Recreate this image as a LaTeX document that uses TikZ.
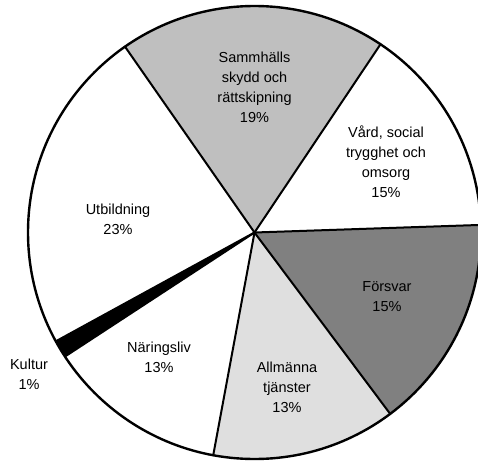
\documentclass[tikz,border=0pt]{standalone}
\usepackage{fontspec}
\setmainfont{Liberation Sans}
\begin{document}
\begin{tikzpicture}[x=1pt,y=1pt,
  lbl/.style={align=center,font=\fontsize{14.5}{20}\selectfont,inner sep=0pt},
  edge/.style={line width=2pt,line cap=round},
  rim/.style={line width=2.4pt}]
\useasboundingbox (0,0) rectangle (478,461);
\def\R{226.5}
\coordinate (c) at (254.5,228.5);
% sector fills
\fill[white] (c) -- ++(1.92:\R) arc[start angle=1.92,end angle=56.2,radius=\R] -- cycle;
\fill[gray!50] (c) -- ++(56.2:\R) arc[start angle=56.2,end angle=124.87,radius=\R] -- cycle;
\fill[white] (c) -- ++(124.87:\R) arc[start angle=124.87,end angle=208.7,radius=\R] -- cycle;
\fill[black] (c) -- ++(208.7:\R) arc[start angle=208.7,end angle=213.2,radius=\R] -- cycle;
\fill[white] (c) -- ++(213.2:\R) arc[start angle=213.2,end angle=259.5,radius=\R] -- cycle;
\fill[gray!25] (c) -- ++(259.5:\R) arc[start angle=259.5,end angle=306.8,radius=\R] -- cycle;
\fill[gray] (c) -- ++(306.8:\R) arc[start angle=306.8,end angle=361.92,radius=\R] -- cycle;
% boundaries
\foreach \a in {1.92,56.2,124.87,208.7,213.2,259.5,306.8}
  \draw[edge] (c) -- ++(\a:\R);
\draw[rim] (c) circle[radius=\R];
% labels
\node[lbl] (samm) at (254.5,374) {Sammhälls\\skydd och\\rättskipning\\19\%};
\node[lbl] (vard) at (386,299) {Vård, social\\trygghet och\\omsorg\\15\%};
\node[lbl] (utb) at (118,242) {Utbildning\\23\%};
\node[lbl] (fors) at (387,164) {Försvar\\15\%};
\node[lbl] (allm) at (287,74) {Allmänna\\tjänster\\13\%};
\node[lbl] (nar) at (159,104) {Näringsliv\\13\%};
\node[lbl] (kult) at (29,87) {Kultur\\1\%};
\end{tikzpicture}
\end{document}
